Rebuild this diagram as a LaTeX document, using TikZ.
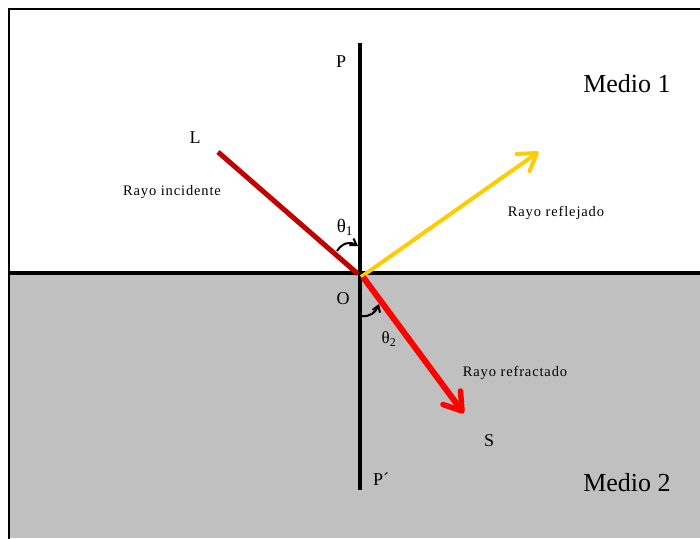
\documentclass[tikz,border=0pt]{standalone}
\usepackage{fontspec}
\setmainfont{Liberation Serif}
\usetikzlibrary{arrows.meta}
\definecolor{medgray}{HTML}{C0C0C0}
\definecolor{incred}{HTML}{C00000}
\definecolor{refyel}{HTML}{FFCC00}
\definecolor{frred}{HTML}{FF0000}
\begin{document}
\begin{tikzpicture}[x=1pt,y=-1pt,
  lbl/.style={inner sep=0pt,font=\fontsize{18}{20}\selectfont},
  raylbl/.style={inner sep=0pt,font=\fontsize{14.5}{16}\addfontfeature{LetterSpace=6}\selectfont},
  medlbl/.style={inner sep=0pt,font=\fontsize{26}{28}\selectfont},
  headline/.style={line join=round,line cap=round}
]
\useasboundingbox (0,0) rectangle (700,538);
\fill[white] (0,0) rectangle (700,538);
\fill[medgray] (10,273) rectangle (700,538);
\draw[line width=2pt] (9,540) -- (9,9) -- (702,9);
% coordinates
\coordinate (Ptop) at (360,43);
\coordinate (Pbot) at (360,490);
\coordinate (Lft) at (10,273);
\coordinate (Rgt) at (700,273);
\coordinate (O) at (360,275);
\coordinate (Lst) at (218,152);
\coordinate (Rend) at (537,153);
\coordinate (Send) at (462,411);
\draw[line width=4pt] (Lft) -- (Rgt);
\draw[line width=4pt] (Ptop) -- (Pbot);
\draw[incred,line width=5pt] (Lst) -- (358,274);
% reflected ray
\draw[refyel,line width=4pt] (361,277) -- (Rend);
\draw[refyel,line width=4pt,headline] (529.5,171) -- (Rend) -- (516.5,154);
% refracted ray
\draw[frred,line width=6pt] (363,277) -- (Send);
\draw[frred,line width=5.5pt,headline] (460.5,391) -- (Send) -- (443,404.5);
% angle arcs
\coordinate (a1s) at (337,251);
\coordinate (a1e) at (358,246);
\draw[line width=2pt,-{Straight Barb[length=6pt,width=8pt]}] (a1s) .. controls (342,243) and (350,241) .. (a1e);
\coordinate (a2s) at (362,316);
\coordinate (a2e) at (379,304);
\draw[line width=2pt,-{Straight Barb[length=6pt,width=8pt]}] (a2s) .. controls (370,317) and (376,312) .. (a2e);
% labels
\node[lbl] (P) at (341,62) {P};
\node[lbl] (L) at (195,138) {L};
\node[lbl] (Olab) at (343,299) {O};
\node[lbl] (S) at (489,441) {S};
\node[lbl] (Pp) at (381,479) {P´};
\node[inner sep=0pt,font=\fontsize{19}{21}\selectfont] (t1) at (345,227) {θ\textsubscript{1}};
\node[inner sep=0pt,font=\fontsize{17}{19}\selectfont] (t2) at (389,339) {θ\textsubscript{2}};
\node[raylbl] (ri) at (172,192) {Rayo incidente};
\node[raylbl] (rr) at (556,213) {Rayo reflejado};
\node[raylbl] (rf) at (515,373) {Rayo refractado};
\node[medlbl] (m1) at (627,84) {Medio 1};
\node[medlbl] (m2) at (627,483) {Medio 2};
\end{tikzpicture}
\end{document}
